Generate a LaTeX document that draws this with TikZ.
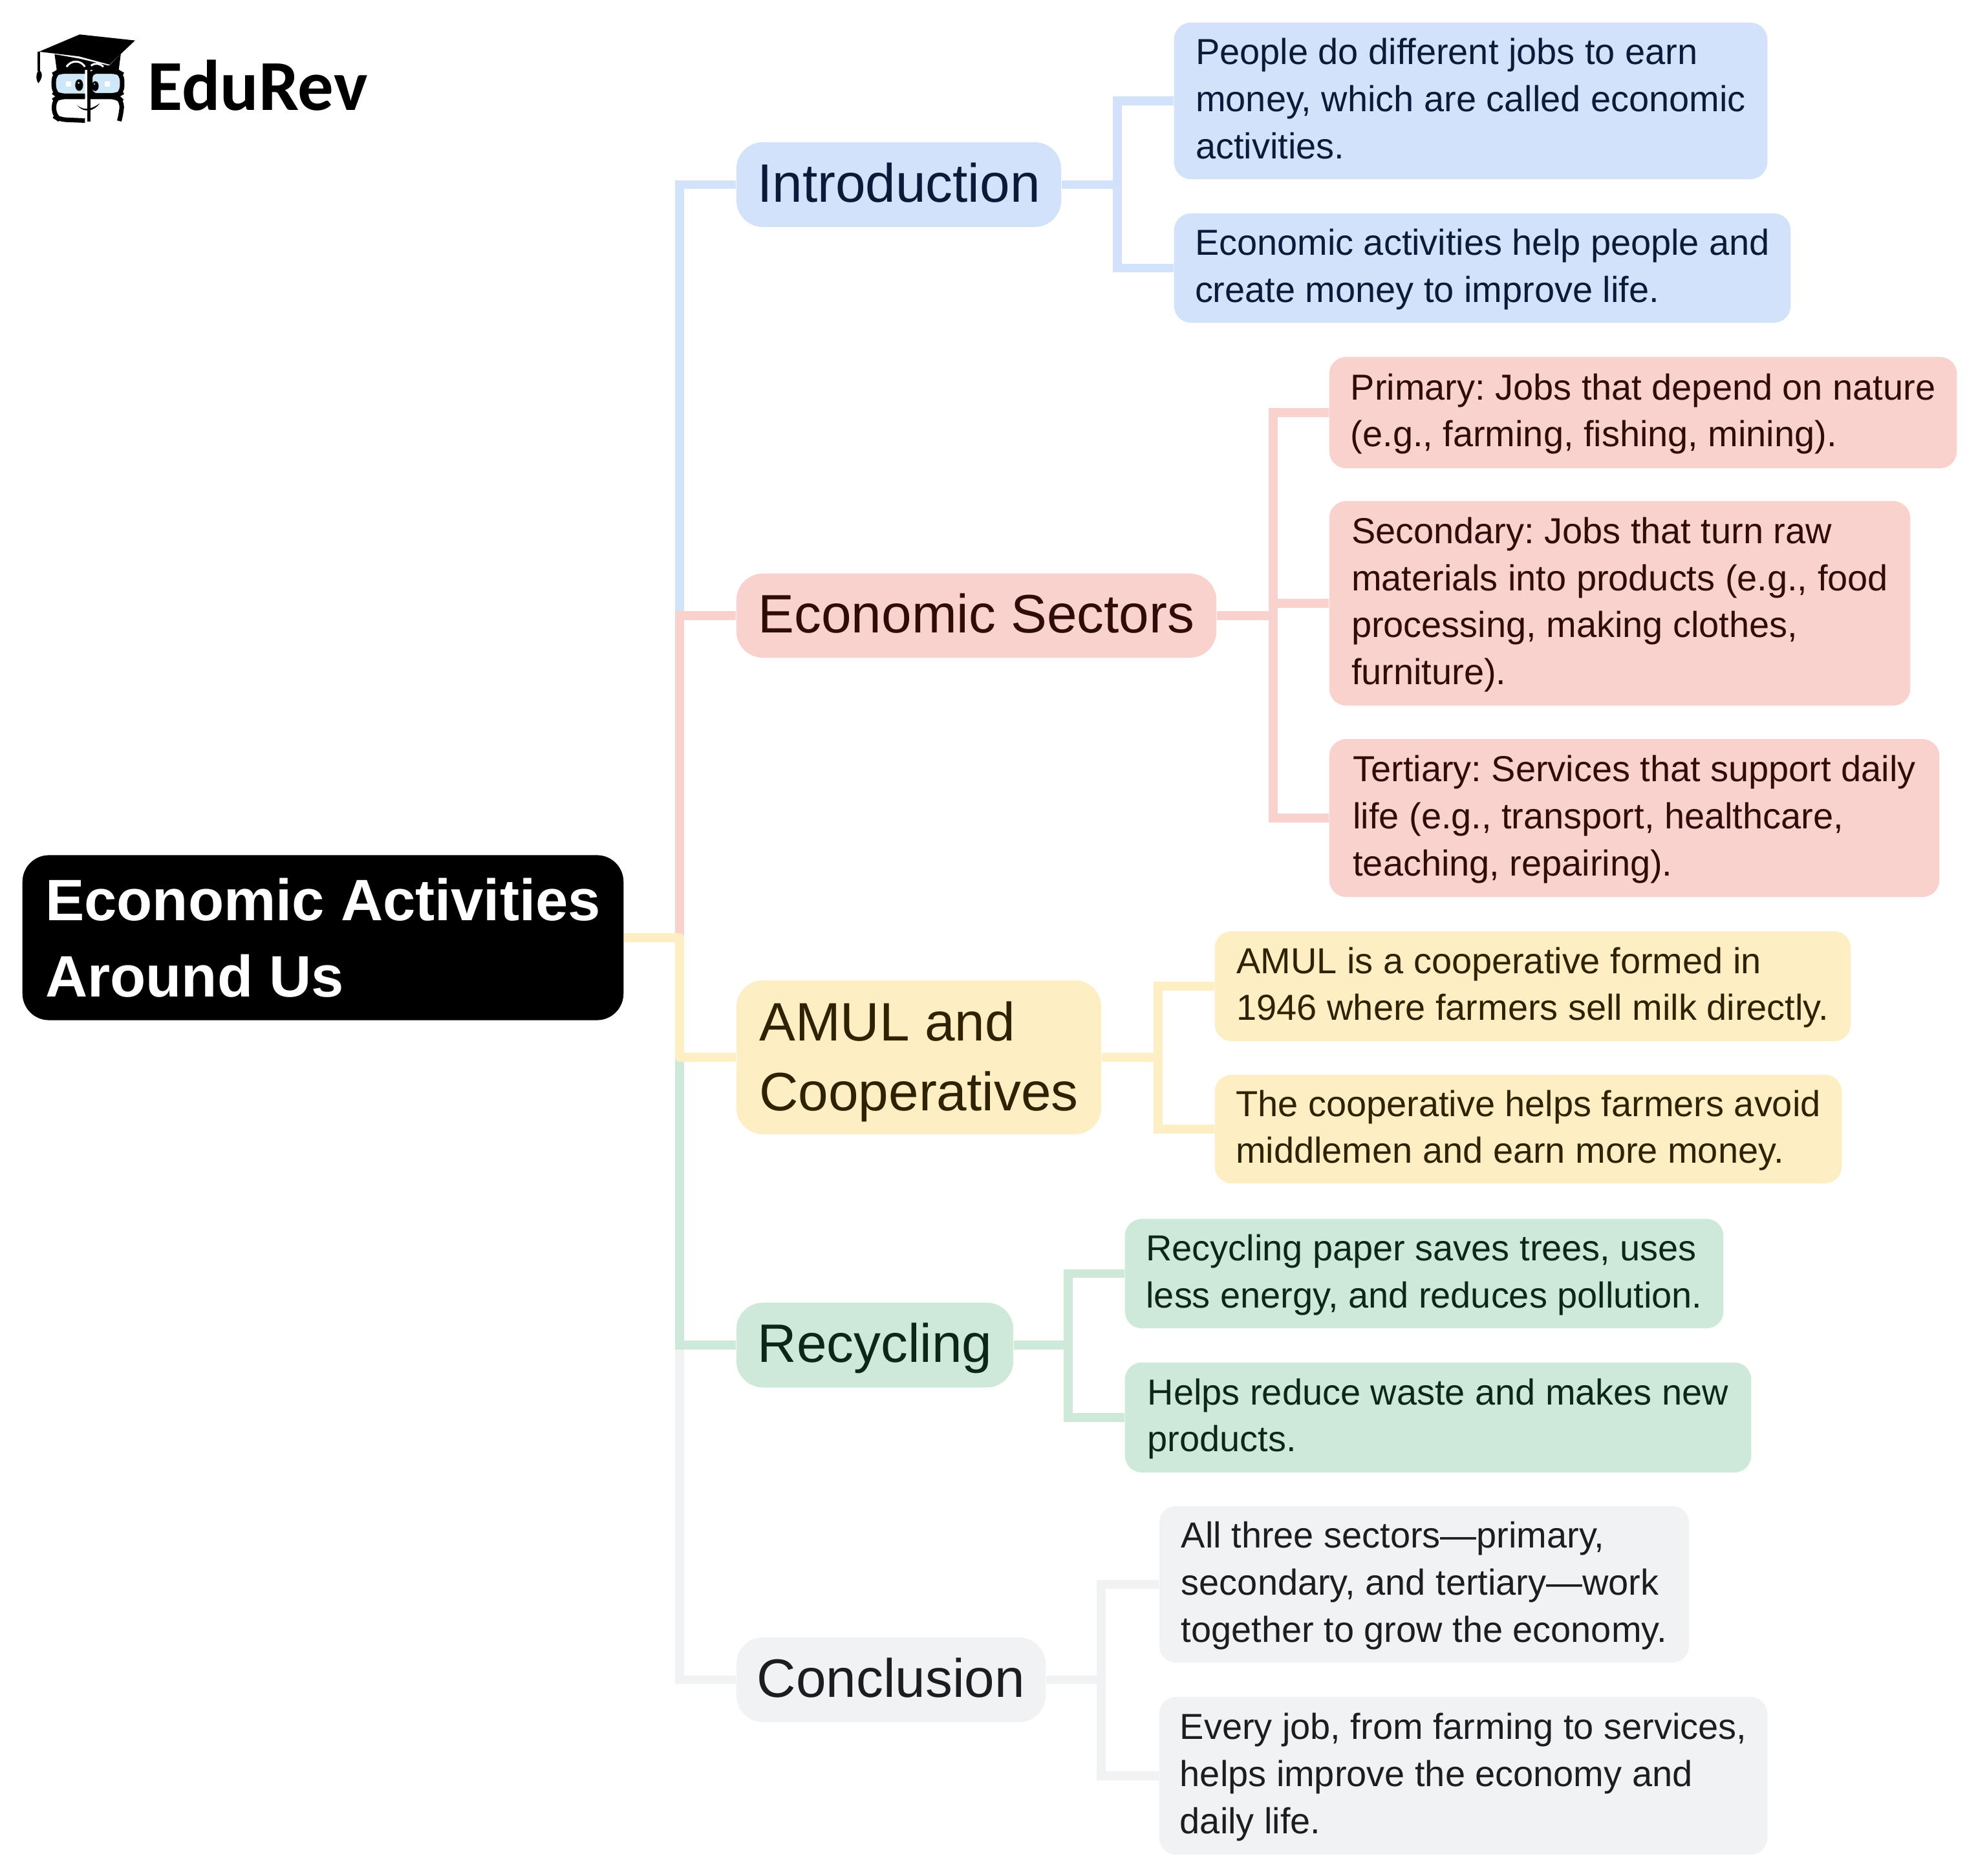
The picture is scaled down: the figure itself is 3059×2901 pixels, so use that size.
\documentclass[tikz,border=0pt]{standalone}
\usepackage{fontspec}
\setmainfont{Liberation Sans}
\newfontfamily\logofont{Carlito}
\definecolor{bluefill}{HTML}{D2E2FB}
\definecolor{bluetext}{HTML}{0B1A38}
\definecolor{redfill}{HTML}{F9D2CE}
\definecolor{redtext}{HTML}{300C09}
\definecolor{yellowfill}{HTML}{FDEEC4}
\definecolor{yellowtext}{HTML}{2F2200}
\definecolor{greenfill}{HTML}{CEE8D9}
\definecolor{greentext}{HTML}{0E2618}
\definecolor{grayfill}{HTML}{F1F2F4}
\definecolor{graytext}{HTML}{1B1D21}
\definecolor{glassblue}{HTML}{CFE8F7}
\tikzset{
  topicbox/.style={rounded corners=0.41cm, align=left, inner sep=0pt,
    font=\fontsize{23.8}{30.7}\selectfont\frenchspacing,
    execute at begin node={\rule{0pt}{20.9pt}}, execute at end node={\rule[-5.7pt]{0pt}{1pt}}},
  leafbox/.style={rounded corners=0.26cm, align=left, inner sep=0pt,
    font=\fontsize{15.9}{20.7}\selectfont\frenchspacing,
    execute at end node={\rule[-5pt]{0pt}{1pt}}},
  twolines/.style={execute at begin node={\rule{0pt}{35.1pt}}},
  threelines/.style={execute at begin node={\rule{0pt}{55.8pt}}},
  fourlines/.style={execute at begin node={\rule{0pt}{76.5pt}}},
  link/.style={line width=0.135cm},
  topicblue/.style={topicbox, fill=bluefill, text=bluetext},
  topicred/.style={topicbox, fill=redfill, text=redtext},
  topicyellow/.style={topicbox, fill=yellowfill, text=yellowtext},
  topicgreen/.style={topicbox, fill=greenfill, text=greentext},
  topicgray/.style={topicbox, fill=grayfill, text=graytext},
  leafblue/.style={leafbox, fill=bluefill, text=bluetext},
  leafred/.style={leafbox, fill=redfill, text=redtext},
  leafyellow/.style={leafbox, fill=yellowfill, text=yellowtext},
  leafgreen/.style={leafbox, fill=greenfill, text=greentext},
  leafgray/.style={leafbox, fill=grayfill, text=graytext},
}
\begin{document}
\begin{tikzpicture}[x=0.01cm,y=-0.01cm]
            \useasboundingbox (0,0) rectangle (3059,2901);
            \node (root) at (499.5,1450) [fill=black, text=white, rounded corners=0.41cm, align=left, inner sep=0pt, minimum width=9.29cm, minimum height=2.55cm, font=\fontsize{25.7}{33.6}\selectfont\bfseries\frenchspacing] {Economic Activities\\Around Us};
            \node (intro) at (1390,285.5) [topicblue, minimum width=5.02cm, minimum height=1.31cm] {Introduction};
            \node (sectors) at (1510,952) [topicred, minimum width=7.42cm, minimum height=1.30cm] {Economic Sectors};
            \node (amul) at (1421,1635) [topicyellow, minimum width=5.64cm, minimum height=2.38cm, execute at begin node={\rule{0pt}{52.4pt}}] {AMUL and\\Cooperatives};
            \node (recycling) at (1353,2080) [topicgreen, minimum width=4.28cm, minimum height=1.31cm] {Recycling};
            \node (conclusion) at (1378,2597.5) [topicgray, minimum width=4.78cm, minimum height=1.31cm] {Conclusion};
            \node (introA) at (2274.5,156) [leafblue, threelines, minimum width=9.17cm, minimum height=2.42cm] {People do different jobs to earn\\money, which are called economic\\activities.};
            \node (introB) at (2292.5,414.5) [leafblue, twolines, minimum width=9.53cm, minimum height=1.69cm] {Economic activities help people and\\create money to improve life.};
            \node (sectorsA) at (2541,638) [leafred, twolines, minimum width=9.70cm, minimum height=1.72cm] {Primary: Jobs that depend on nature\\(e.g., farming, fishing, mining).};
            \node (sectorsB) at (2505,933) [leafred, fourlines, minimum width=8.98cm, minimum height=3.16cm] {Secondary: Jobs that turn raw\\materials into products (e.g., food\\processing, making clothes,\\furniture).};
            \node (sectorsC) at (2527.5,1265) [leafred, threelines, minimum width=9.43cm, minimum height=2.44cm] {Tertiary: Services that support daily\\life (e.g., transport, healthcare,\\teaching, repairing).};
            \node (amulA) at (2370.5,1525) [leafyellow, twolines, minimum width=9.83cm, minimum height=1.70cm] {AMUL is a cooperative formed in\\1946 where farmers sell milk directly.};
            \node (amulB) at (2363.5,1746) [leafyellow, twolines, minimum width=9.69cm, minimum height=1.68cm] {The cooperative helps farmers avoid\\middlemen and earn more money.};
            \node (recyclingA) at (2202.5,1969.5) [leafgreen, twolines, minimum width=9.25cm, minimum height=1.69cm] {Recycling paper saves trees, uses\\less energy, and reduces pollution.};
            \node (recyclingB) at (2224,2192) [leafgreen, twolines, minimum width=9.68cm, minimum height=1.70cm] {Helps reduce waste and makes new\\products.};
            \node (conclusionA) at (2202.5,2450) [leafgray, threelines, minimum width=8.19cm, minimum height=2.42cm] {All three sectors---primary,\\secondary, and tertiary---work\\together to grow the economy.};
            \node (conclusionB) at (2263,2746) [leafgray, threelines, minimum width=9.40cm, minimum height=2.44cm] {Every job, from farming to services,\\helps improve the economy and\\daily life.};
            \coordinate (trunk) at (1051,1450);
            \coordinate (introbus) at (1728,285.5);
            \coordinate (sectorsbus) at (1969,952);
            \coordinate (amulbus) at (1791,1635);
            \coordinate (recyclingbus) at (1652,2080);
            \coordinate (conclusionbus) at (1703,2597.5);
            \draw [link, grayfill] (root.east) -- (trunk) |- (conclusion.west);
            \draw [link, greenfill] (root.east) -- (trunk) |- (recycling.west);
            \draw [link, bluefill] (root.east) -- (trunk) |- (intro.west);
            \draw [link, redfill] (root.east) -- (trunk) |- (sectors.west);
            \draw [link, yellowfill, line join=round] (root.east) -- (trunk) |- (amul.west);
            \draw [link, bluefill] (intro.east) -- (introbus);
            \draw [link, bluefill] (introA.west) -| (introbus) |- (introB.west);
            \draw [link, redfill] (sectors.east) -- (sectorsbus);
            \draw [link, redfill] (sectorsA.west) -| (sectorsbus) |- (sectorsC.west);
            \draw [link, redfill] (sectorsbus |- sectorsB.west) -- (sectorsB.west);
            \draw [link, yellowfill] (amul.east) -- (amulbus);
            \draw [link, yellowfill] (amulA.west) -| (amulbus) |- (amulB.west);
            \draw [link, greenfill] (recycling.east) -- (recyclingbus);
            \draw [link, greenfill] (recyclingA.west) -| (recyclingbus) |- (recyclingB.west);
            \draw [link, grayfill] (conclusion.east) -- (conclusionbus);
            \draw [link, grayfill] (conclusionA.west) -| (conclusionbus) |- (conclusionB.west);
            \node (logotext) at (228,132) [anchor=west, inner sep=0pt, font=\fontsize{31.5}{32}\selectfont\logofont\bfseries] {EduRev};
            \begin{scope}[xscale=0.408,yscale=0.333]
                \fill (148,240) -- (302,160) -- (512,188) -- (415,300) -- (300,262) -- cycle;
                \fill (207,252) -- (300,272) -- (413,305) -- (458,250) -- (450,325) -- (215,325) -- cycle;
                \draw [white, line width=0.03cm] (252,310) .. controls (270,278) and (305,278) .. (322,310);
                \draw [white, line width=0.03cm] (345,305) .. controls (360,290) and (380,295) .. (392,310);
                \draw [line width=0.04cm] (148,240) -- (148,330);
                \fill (148,325) .. controls (135,340) and (135,365) .. (145,387) .. controls (160,365) and (165,340) .. (148,325) -- cycle;
                \draw [fill=glassblue, line width=0.07cm, rounded corners=0.1cm] (322,332) -- (222,332) -- (204,345) -- (204,430) -- (222,445) -- (322,445);
                \draw [fill=glassblue, line width=0.07cm, rounded corners=0.1cm] (342,332) -- (445,332) -- (463,345) -- (463,430) -- (445,443) -- (342,443) -- cycle;
                \draw [line width=0.07cm, rounded corners=0.1cm] (322,560) -- (225,555) -- (206,540) -- (204,465) -- (222,450) -- (322,450);
                \draw [line width=0.07cm, rounded corners=0.1cm] (342,450) -- (445,450) -- (463,470) -- (460,525) -- (452,562);
                \draw [line width=0.05cm] (336,325) -- (336,565);
                \fill (292,488) .. controls (320,518) and (350,505) .. (378,480) .. controls (355,520) and (315,525) .. (292,488) -- cycle;
                \fill (300,395) ellipse [x radius=15, y radius=27];
                \fill (361,400) ellipse [x radius=13, y radius=23];
                \fill [white] (298,385) circle (4);
                \fill [white] (358,390) circle (3);
                \fill [white] (250,378) rectangle (270,402);
                \fill [white] (396,378) rectangle (416,402);
            \end{scope}
        \end{tikzpicture}
\end{document}
